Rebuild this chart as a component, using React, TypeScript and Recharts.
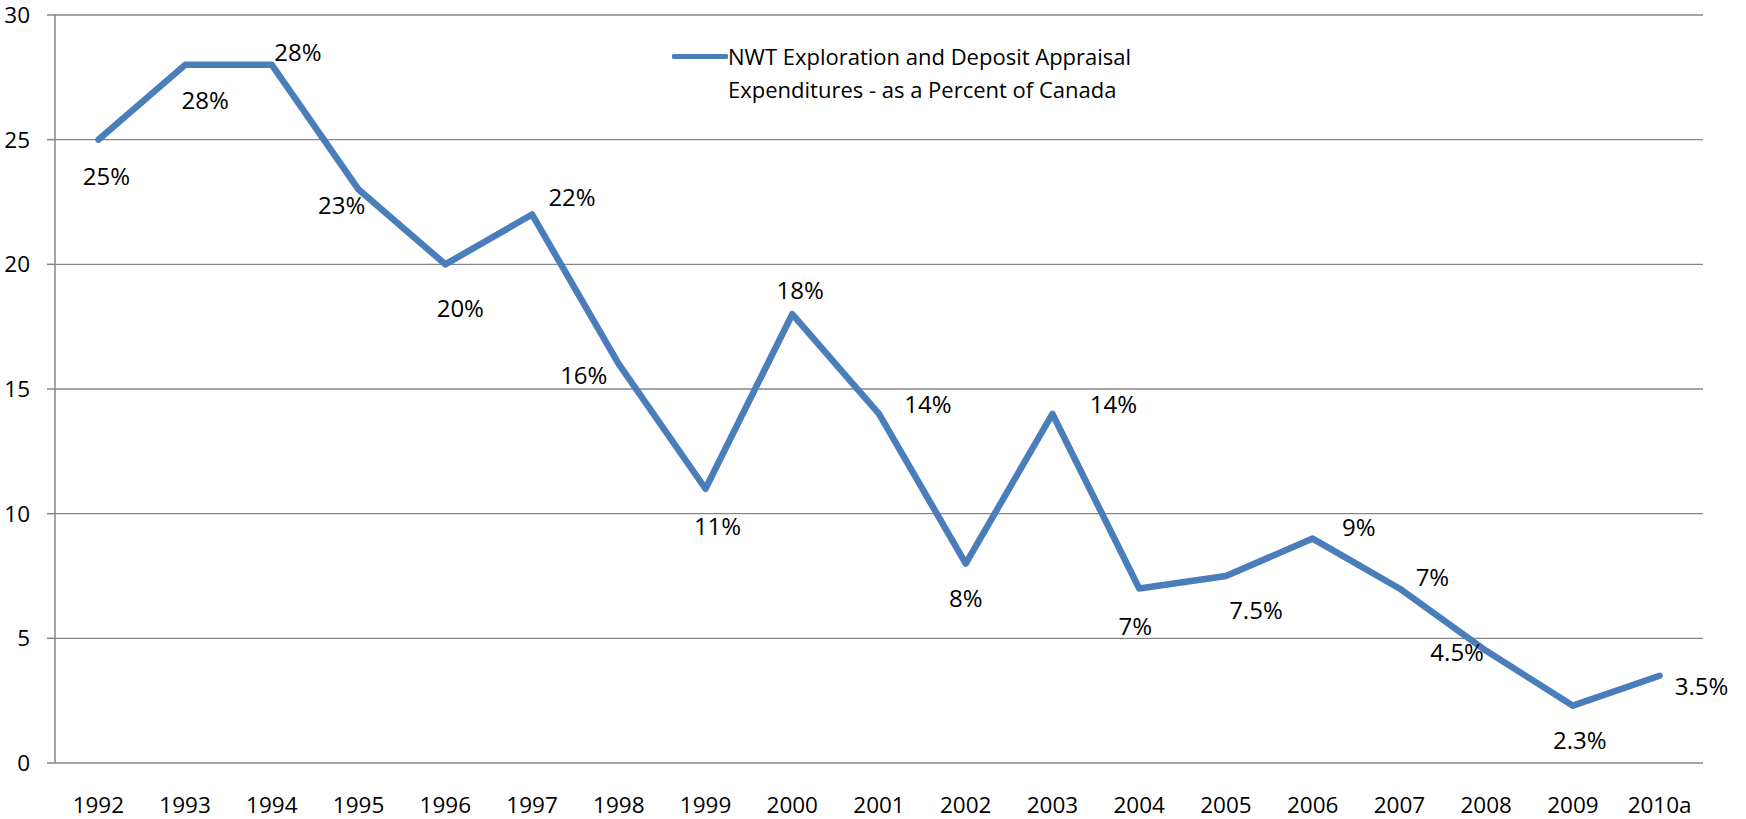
import React from 'react';
import { LineChart, Line, XAxis, YAxis, CartesianGrid, Legend } from 'recharts';

const years = ['1992', '1993', '1994', '1995', '1996', '1997', '1998', '1999', '2000', '2001', '2002', '2003', '2004', '2005', '2006', '2007', '2008', '2009', '2010a'];
const values = [25, 28, 28, 23, 20, 22, 16, 11, 18, 14, 8, 14, 7, 7.5, 9, 7, 4.5, 2.3, 3.5];
const yTicks = [0, 5, 10, 15, 20, 25, 30];
const seriesName = 'NWT Exploration and Deposit Appraisal Expenditures - as a Percent of Canada';
const legendLines = ['NWT Exploration and Deposit Appraisal', 'Expenditures - as a Percent of Canada'];

// label placement offsets (style only)
const labelDx = [8, 20, 26, -17, 15, 40, -35, 12, 8, 49, 0, 61, -4, 30, 46, 33, -29, 7, 42];
const labelDy = [36, 35, -13, 15, 43, -18, 10, 37, -25, -10, 34, -10, 37, 33, -12, -12, 1, 34, 10];

const data = years.map((year, i) => ({ year, value: values[i], pos: i + 0.5 }));
const boundaryTicks = years.map((_, i) => i).concat([years.length]);

const FONT = '"Open Sans", sans-serif';
const FS = 22.5;
const LFS = 24;
const BLUE = '#4A7EBB';
const GREY = '#868686';

const renderLabel = (props: any) => {
  const { x, y, index, value } = props;
  return (
    <text
      x={x + labelDx[index]}
      y={y + labelDy[index]}
      textAnchor="middle"
      dominantBaseline="central"
      fontSize={LFS}
      fontFamily={FONT}
      fill="#000"
    >
      {value}%
    </text>
  );
};

const LegendContent = () => (
  <div style={{ display: 'flex', alignItems: 'flex-start', fontFamily: FONT, fontSize: 22, lineHeight: '33px', color: '#000', whiteSpace: 'nowrap' }}>
    <svg width={56} height={33} style={{ flex: 'none' }}>
      <line x1={2} y1={16.5} x2={54} y2={16.5} stroke={BLUE} strokeWidth={5} strokeLinecap="round" />
    </svg>
    <div>
      {legendLines.map((l) => (
        <div key={l}>{l}</div>
      ))}
    </div>
  </div>
);

export default function App() {
  return (
    <div style={{ width: 1746, height: 819, fontFamily: FONT }}>
      <style>{`body{margin:0}`}</style>
      <LineChart width={1746} height={819} data={data} margin={{ top: 15, right: 43, left: 0, bottom: 0 }}>
        <CartesianGrid vertical={false} stroke={GREY} strokeWidth={1.3} />
        <XAxis
          xAxisId="b"
          dataKey="pos"
          type="number"
          domain={[0, years.length]}
          ticks={boundaryTicks}
          interval={0}
          tickFormatter={() => ''}
          height={0}
          tickSize={7}
          stroke={GREY}
          strokeWidth={1.5}
        />
        <XAxis
          xAxisId="c"
          dataKey="year"
          scale="band"
          axisLine={false}
          tickLine={false}
          tickSize={0}
          tickMargin={34}
          height={56}
          interval={0}
          tick={{ fill: '#000', fontSize: FS, fontFamily: FONT }}
        />
        <YAxis
          domain={[0, 30]}
          ticks={yTicks}
          width={55}
          tickSize={8}
          tickMargin={17}
          stroke={GREY}
          strokeWidth={1.5}
          tick={{ fill: '#000', fontSize: FS, fontFamily: FONT }}
        />
        <Legend
          verticalAlign="middle"
          align="center"
          content={<LegendContent />}
          wrapperStyle={{ position: 'absolute', left: 672, top: 40, width: 'auto' }}
        />
        <Line
          xAxisId="c"
          type="linear"
          dataKey="value"
          name={seriesName}
          stroke={BLUE}
          strokeWidth={6.5}
          strokeLinejoin="round"
          strokeLinecap="round"
          dot={false}
          activeDot={false}
          label={renderLabel}
          isAnimationActive={false}
        />
      </LineChart>
    </div>
  );
}
